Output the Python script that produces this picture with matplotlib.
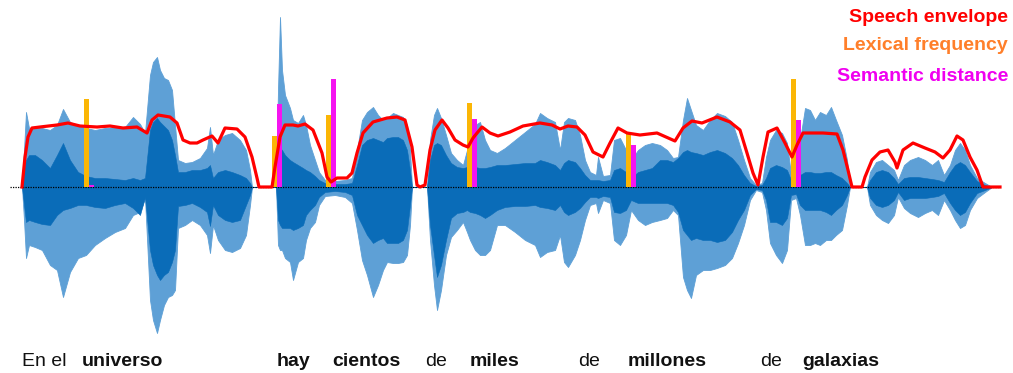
import numpy as np
import matplotlib.pyplot as plt

plt.rcParams['font.family'] = ['Liberation Sans', 'DejaVu Sans']

# waveform outline, time in ms, amplitude in a.u.
t = [6, 12, 18, 27, 45, 66, 90, 111, 129, 150, 174, 198, 225, 255, 285, 315, 339, 360, 375,
     390, 399, 411, 420, 432, 444, 456, 465, 474, 495, 516, 540, 561, 570, 579, 594, 615, 636,
     660, 678, 690, 696,
     768, 774, 780, 786, 795, 810, 819, 834, 849, 858, 870, 885, 897, 915, 945, 975, 996,
     1011, 1026, 1041, 1059, 1074, 1089, 1101, 1119, 1134, 1149, 1161, 1170, 1176,
     1221, 1230, 1242, 1251, 1263, 1278, 1293, 1311, 1329, 1341, 1350, 1365, 1380, 1395, 1410,
     1431, 1455, 1485, 1515, 1545, 1560, 1581, 1605, 1620, 1632, 1644, 1665, 1680, 1695, 1710,
     1728, 1734, 1749, 1770, 1782, 1800, 1818, 1833, 1854, 1875, 1896, 1920, 1941, 1959, 1974,
     1989, 2001, 2013, 2028, 2049, 2070, 2091, 2115, 2136, 2154, 2172, 2190, 2208, 2226, 2238,
     2250, 2268, 2286, 2301, 2313, 2328, 2340, 2355, 2370, 2385, 2400, 2418, 2433, 2448, 2466,
     2481, 2490,
     2541, 2550, 2568, 2586, 2604, 2622, 2634, 2652, 2670, 2694, 2715, 2736, 2754, 2772, 2790,
     2805, 2820, 2835, 2850, 2871, 2895, 2916]
light_hi = [0, 37, 75, 59, 60, 59, 57, 62, 78, 65, 62, 59, 57, 59, 60, 60, 70, 63, 54,
            112, 125, 130, 117, 109, 107, 97, 62, 27, 24, 25, 29, 39, 60, 32, 47, 52, 54,
            47, 37, 17, 0,
            0, 97, 170, 117, 92, 79, 67, 64, 72, 62, 42, 27, 15, 7, 6, 7, 9,
            37, 67, 75, 80, 72, 67, 69, 74, 72, 70, 62, 37, 0,
            0, 47, 72, 79, 69, 52, 34, 27, 22, 37, 49, 62, 65, 47, 37,
            34, 39, 47, 55, 63, 74, 69, 65, 37, 65, 69, 67, 52, 27, 15,
            12, 30, 11, 12, 47, 49, 37, 27, 37, 42, 44, 42, 37, 29, 30,
            67, 89, 77, 62, 57, 67, 74, 71, 65, 47, 27, 9, 2, 4, 30,
            47, 57, 54, 44, 12, 9, 47, 79, 77, 67, 75, 72, 80, 67, 52,
            27, 0,
            0, 15, 25, 27, 22, 17, 7, 22, 27, 30, 27, 22, 27, 12, 22,
            37, 44, 37, 22, 9, 4, 0]
light_lo = [0, -33, -71, -58, -60, -63, -78, -83, -110, -85, -71, -68, -58, -51, -45, -41, -28, -25, -11,
            -113, -133, -146, -133, -118, -110, -108, -103, -41, -38, -33, -38, -48, -66, -38, -53, -63, -65,
            -61, -48, -18, 0,
            0, -58, -63, -63, -71, -75, -93, -75, -71, -53, -41, -35, -18, -9, -8, -10, -16,
            -43, -73, -88, -110, -98, -83, -75, -76, -76, -75, -68, -38, 0,
            0, -53, -98, -123, -103, -68, -50, -43, -35, -45, -53, -63, -68, -68, -63,
            -38, -38, -45, -53, -58, -70, -65, -63, -48, -75, -80, -68, -53, -33, -18,
            -16, -26, -13, -16, -53, -58, -48, -23, -33, -38, -35, -33, -31, -23, -28,
            -90, -103, -111, -88, -83, -83, -81, -78, -71, -56, -38, -13, -3, -5, -23,
            -56, -68, -76, -63, -13, -11, -28, -58, -58, -56, -58, -53, -53, -48, -43,
            -18, 0,
            0, -18, -28, -33, -36, -28, -10, -21, -26, -30, -26, -23, -28, -13, -23,
            -33, -41, -38, -23, -11, -5, 0]
dark_hi = [0, 17, 27, 32, 32, 27, 19, 32, 44, 27, 15, 11, 9, 9, 8, 7, 9, 7, 9,
           57, 65, 69, 65, 61, 57, 47, 32, 15, 15, 17, 17, 19, 22, 9, 15, 17, 15,
           12, 9, 4, 0,
           0, 37, 39, 37, 32, 27, 25, 22, 19, 17, 15, 11, 7, 4, 3, 3, 4,
           22, 42, 47, 49, 47, 45, 49, 50, 50, 47, 37, 17, 0,
           0, 27, 42, 44, 42, 32, 24, 20, 19, 20, 22, 20, 19, 19, 20,
           22, 22, 23, 24, 24, 27, 25, 22, 17, 24, 27, 25, 19, 12, 7,
           7, 7, 6, 7, 17, 19, 15, 9, 15, 17, 19, 27, 27, 25, 29,
           35, 37, 35, 34, 32, 35, 37, 34, 29, 22, 12, 4, 1, 2, 9,
           19, 22, 20, 17, 7, 6, 12, 15, 15, 14, 14, 15, 15, 12, 9,
           4, 0,
           0, 7, 15, 17, 15, 9, 3, 9, 10, 10, 9, 8, 7, 5, 15,
           22, 25, 22, 15, 6, 2, 0]
dark_lo = [0, -18, -35, -33, -35, -37, -38, -28, -23, -21, -18, -18, -20, -21, -18, -16, -21, -28, -10,
           -63, -78, -88, -93, -88, -85, -75, -63, -19, -18, -16, -20, -25, -39, -18, -28, -33, -35,
           -33, -18, -8, 0,
           0, -33, -38, -41, -41, -41, -43, -41, -38, -28, -23, -18, -10, -5, -4, -5, -8,
           -28, -38, -48, -56, -53, -51, -56, -56, -56, -53, -43, -18, 0,
           0, -38, -68, -90, -78, -53, -31, -26, -25, -23, -25, -26, -28, -31, -28,
           -23, -20, -19, -19, -18, -20, -21, -23, -18, -25, -28, -25, -21, -15, -10,
           -10, -11, -9, -10, -25, -26, -23, -13, -16, -16, -16, -16, -16, -18, -25,
           -43, -48, -53, -51, -53, -53, -55, -53, -45, -33, -23, -8, -2, -3, -13,
           -35, -35, -38, -31, -8, -7, -18, -23, -23, -23, -23, -25, -28, -23, -18,
           -8, 0,
           0, -11, -18, -20, -18, -13, -5, -13, -11, -11, -11, -10, -9, -6, -16,
           -23, -28, -25, -16, -6, -3, 0]

# speech envelope
env_t = [6, 15, 24, 36, 60, 111, 144, 180, 231, 270, 309, 351, 381, 396, 414, 450, 471, 489,
         510, 531, 549, 576, 594, 615, 651, 675, 696, 711, 717, 756, 765, 780, 795, 819, 834,
         855, 879, 906, 921, 933, 951, 981, 996, 1011, 1029, 1059, 1101, 1131, 1155, 1176,
         1191, 1200, 1215, 1230, 1245, 1266, 1284, 1305, 1329, 1344, 1359, 1386, 1410, 1434,
         1470, 1509, 1560, 1596, 1620, 1644, 1671, 1695, 1719, 1749, 1770, 1794, 1821, 1860,
         1911, 1965, 1989, 2016, 2046, 2091, 2130, 2160, 2181, 2199, 2214, 2229, 2244, 2271,
         2295, 2316, 2331, 2349, 2379, 2409, 2451, 2469, 2484, 2496, 2526, 2535, 2556, 2580,
         2604, 2625, 2631, 2649, 2679, 2715, 2745, 2769, 2790, 2811, 2829, 2850, 2871, 2889,
         2940]
env_a = [0, 30, 50, 59, 60, 62, 64, 61, 60, 61, 59, 60, 54, 67, 72, 70, 64, 47,
         44, 44, 47, 51, 44, 59, 58, 50, 30, 9, 0, 0, 20, 50, 62, 62, 61,
         63, 57, 34, 10, 5, 9, 9, 14, 34, 54, 65, 69, 70, 67, 40,
         2, 0, 2, 37, 57, 67, 59, 47, 42, 40, 49, 60, 54, 51,
         55, 61, 64, 62, 58, 61, 60, 52, 35, 30, 44, 59, 54, 52,
         54, 46, 59, 66, 64, 70, 65, 57, 34, 14, 2, 30, 55, 59,
         44, 30, 42, 54, 54, 54, 53, 37, 17, 0, 0, 10, 27, 35,
         37, 25, 19, 37, 44, 39, 35, 29, 37, 51, 47, 30, 17, 0,
         0]

# word onsets (ms) with lexical frequency and semantic distance
onsets = [192, 756, 918, 1341, 1818, 2313]
lex_freq = [88, 51, 72, 84, 55, 108]
sem_dist = [2, 83, 108, 68, 42, 67]

words = ['En el', 'universo', 'hay', 'cientos', 'de', 'miles', 'de', 'millones', 'de', 'galaxias']
word_t = [6, 186, 771, 936, 1215, 1350, 1674, 1824, 2220, 2346]
content = [False, True, True, True, False, True, False, True, False, True]

fig = plt.figure(figsize=(10.13, 3.73), dpi=100)
ax = fig.add_axes([0, 0, 1, 1])
ax.set_xlim(-60, 2979)
ax.set_ylim(-186, 187)
ax.axis('off')

ax.fill_between(t, light_lo, light_hi, color='#5ea0d6', lw=0.6, zorder=1)
ax.fill_between(t, dark_lo, dark_hi, color='#0a6cb8', lw=0.4, zorder=2)
ax.plot([-30, 2940], [0, 0], ls=(0, (1, 1)), color='black', lw=0.9, zorder=3)

bw = 15
ax.bar(onsets, lex_freq, width=bw, align='edge', color='#fbb605', zorder=4)
ax.bar([o + bw for o in onsets], sem_dist, width=bw, align='edge', color='#f514f0', zorder=4)

ax.plot(env_t, env_a, color='#ff0000', lw=2.3, zorder=5, solid_joinstyle='round')

for w, wt, c in zip(words, word_t, content):
    ax.text(wt, -175, w, fontsize=14, fontweight='bold' if c else 'normal',
            color='#111111', ha='left', va='center')

ax.text(0.995, 0.954, 'Speech envelope', transform=ax.transAxes, ha='right', va='center',
        fontsize=14, fontweight='bold', color='#ff0000')
ax.text(0.995, 0.877, 'Lexical frequency', transform=ax.transAxes, ha='right', va='center',
        fontsize=14, fontweight='bold', color='#ff7f2a')
ax.text(0.995, 0.796, 'Semantic distance', transform=ax.transAxes, ha='right', va='center',
        fontsize=14, fontweight='bold', color='#f000f0')

fig.savefig('out.png', dpi=100)
